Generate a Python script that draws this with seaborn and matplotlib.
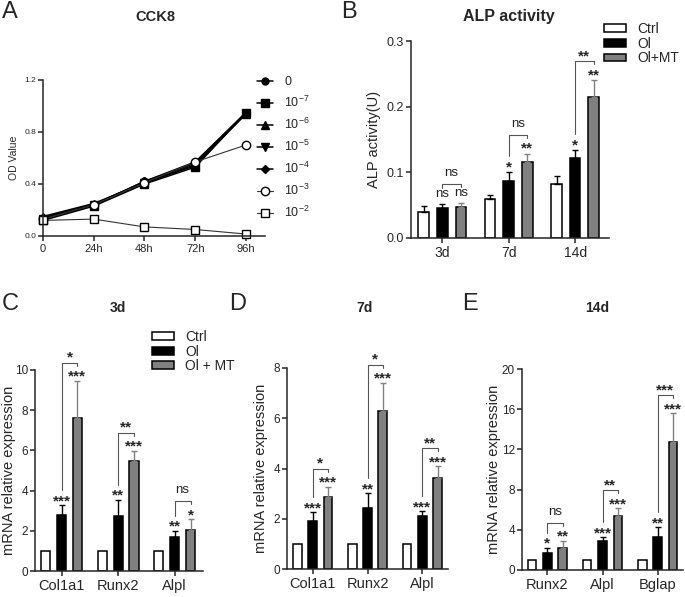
import matplotlib
matplotlib.use("Agg")
import matplotlib.pyplot as plt
import pandas as pd
import seaborn as sns
from matplotlib.patches import Patch
from matplotlib.ticker import FormatStrFormatter

sns.set_style("ticks")
plt.rcParams["font.family"] = ["Liberation Sans", "DejaVu Sans"]
plt.rcParams["mathtext.default"] = "regular"

# ---------------- data ----------------
# A: CCK8 (OD value over time for each concentration)
hours = [0, 24, 48, 72, 96]
hour_labels = ["0", "24h", "48h", "72h", "96h"]
conc_labels = ["0", "$10^{-7}$", "$10^{-6}$", "$10^{-5}$", "$10^{-4}$", "$10^{-3}$", "$10^{-2}$"]
od_0 = [0.14, 0.24, 0.42, 0.57, 0.95]
od_1e7 = [0.12, 0.23, 0.40, 0.53, 0.95]
od_1e6 = [0.15, 0.25, 0.41, 0.55, 0.94]
od_1e5 = [0.13, 0.24, 0.41, 0.54, 0.94]
od_1e4 = [0.14, 0.24, 0.42, 0.56, 0.95]
od_1e3 = [0.13, 0.24, 0.41, 0.57, 0.70]
od_1e2 = [0.12, 0.13, 0.07, 0.05, 0.015]

# B: ALP activity
days = ["3d", "7d", "14d"]
alp_ctrl = [0.039, 0.059, 0.082]
alp_ol = [0.045, 0.087, 0.122]
alp_mt = [0.047, 0.115, 0.214]
alp_ctrl_sd = [0.009, 0.007, 0.013]
alp_ol_sd = [0.007, 0.013, 0.012]
alp_mt_sd = [0.007, 0.013, 0.026]
alp_sig_ol = ["ns", "*", "*"]
alp_sig_mt = ["ns", "**", "**"]
alp_sig_cmp = ["ns", "ns", "**"]

# C: mRNA 3d
genes_cd = ["Col1a1", "Runx2", "Alpl"]
d3_ctrl = [1.0, 1.0, 1.0]
d3_ol = [2.80, 2.73, 1.69]
d3_mt = [7.62, 5.47, 2.03]
d3_ol_sd = [0.46, 0.81, 0.32]
d3_mt_sd = [1.85, 0.52, 0.55]
d3_sig_ol = ["***", "**", "**"]
d3_sig_mt = ["***", "***", "*"]
d3_sig_cmp = ["*", "**", "ns"]

# D: mRNA 7d
d7_ctrl = [1.0, 1.0, 1.0]
d7_ol = [1.91, 2.41, 2.11]
d7_mt = [2.87, 6.30, 3.62]
d7_ol_sd = [0.34, 0.61, 0.18]
d7_mt_sd = [0.41, 1.12, 0.46]
d7_sig_ol = ["***", "**", "***"]
d7_sig_mt = ["***", "***", "***"]
d7_sig_cmp = ["*", "*", "**"]

# E: mRNA 14d
genes_e = ["Runx2", "Alpl", "Bglap"]
d14_ctrl = [1.0, 1.0, 1.0]
d14_ol = [1.73, 2.90, 3.27]
d14_mt = [2.17, 5.33, 12.77]
d14_ol_sd = [0.47, 0.37, 1.00]
d14_mt_sd = [0.76, 0.80, 2.83]
d14_sig_ol = ["*", "***", "**"]
d14_sig_mt = ["**", "***", "***"]
d14_sig_cmp = ["ns", "**", "***"]

BAR_COLORS = ["white", "black", "#808080"]
ERR_COLORS = ["black", "black", "#808080"]

W, H = 685, 597
fig = plt.figure(figsize=(W / 100, H / 100), dpi=100)


def add_ax(l, t, r, b):
    return fig.add_axes([l / W, 1 - b / H, (r - l) / W, (b - t) / H])


def px2y(ax, n):
    lo, hi = ax.get_ylim()
    return n * (hi - lo) / (ax.get_position().height * H)


def style(ax, ysize, xsize):
    sns.despine(ax=ax)
    for s in ("left", "bottom"):
        ax.spines[s].set_linewidth(1.1)
    ax.tick_params(axis="y", width=1.1, length=3.5, pad=1.5, labelsize=ysize)
    ax.tick_params(axis="x", width=1.1, length=3.5, pad=2, labelsize=xsize)


def sig_text(ax, x, y, s):
    if s == "ns":
        ax.text(x, y, s, ha="center", va="center", fontsize=9.5, color="#222222")
    else:
        ax.text(x, y - px2y(ax, 5), s, ha="center", va="center", fontsize=11,
                fontweight="bold")


def bar_panel(ax, cats, names, means, sds, sig_ol, sig_mt, sig_cmp, ymax, yticks, xlim,
              gap_px=9):
    df = pd.DataFrame({
        "cat": cats * 3,
        "group": [n for n in names for _ in cats],
        "value": means[0] + means[1] + means[2],
    })
    sns.barplot(data=df, x="cat", y="value", hue="group", order=cats, hue_order=names,
                palette=dict(zip(names, BAR_COLORS)), width=0.84, gap=0.43,
                edgecolor="black", linewidth=1.1, errorbar=None, legend=False, ax=ax)
    ax.set_ylim(0, ymax)
    ax.set_xlim(*xlim)
    ax.set_yticks(yticks)
    ax.set_xlabel("")

    centers = []
    for cont, m, sd, ec in zip(ax.containers, means, sds, ERR_COLORS):
        xs = [p.get_x() + p.get_width() / 2 for p in cont]
        centers.append(xs)
        for x, v, e in zip(xs, m, sd):
            if e > 0:
                ax.errorbar([x], [v], yerr=[[0], [e]], fmt="none", ecolor=ec,
                            elinewidth=1.0, capsize=2.3, capthick=1.0, zorder=3)

    for i in range(len(cats)):
        x_ol, x_mt = centers[1][i], centers[2][i]
        y_ol = means[1][i] + sds[1][i] + px2y(ax, gap_px)
        y_mt = means[2][i] + sds[2][i] + px2y(ax, gap_px)
        sig_text(ax, x_ol, y_ol, sig_ol[i])
        sig_text(ax, x_mt, y_mt, sig_mt[i])
        y_br = max(y_ol, y_mt) + px2y(ax, 9)
        ax.plot([x_ol, x_ol, x_mt, x_mt],
                [y_ol + px2y(ax, 6), y_br, y_br, y_mt + px2y(ax, 6)],
                color="#555555", lw=0.8, clip_on=False)
        off = 11 if sig_cmp[i] == "ns" else 10
        sig_text(ax, (x_ol + x_mt) / 2, y_br + px2y(ax, off), sig_cmp[i])


def bar_legend(ax, names, x, y, size):
    handles = [Patch(facecolor=c, edgecolor="black", linewidth=1.1, label=n)
               for c, n in zip(BAR_COLORS, names)]
    ax.legend(handles=handles, loc="upper left", bbox_to_anchor=(x / W, 1 - y / H),
              bbox_transform=fig.transFigure, frameon=False, fontsize=size,
              handlelength=1.6, handleheight=0.5, handletextpad=0.8, labelspacing=0.05,
              borderpad=0, borderaxespad=0)


# ---------------- A: CCK8 ----------------
axA = add_ax(43, 80, 265, 236)
series = [od_0, od_1e7, od_1e6, od_1e5, od_1e4, od_1e3, od_1e2]
markers = ["o", "s", "^", "v", "D", "o", "s"]
msizes = [5, 5.5, 5.5, 5.5, 4, 6, 6]
faces = ["black"] * 5 + ["white", "white"]
lws = [1.1] * 5 + [0.8, 0.8]
lcols = ["black"] * 5 + ["#333333", "#333333"]
for vals, m, ms, fc, lw, lc in zip(series, markers, msizes, faces, lws, lcols):
    sns.lineplot(x=hours, y=vals, ax=axA, color=lc, lw=lw, marker=m, markersize=ms,
                 markerfacecolor=fc, markeredgecolor="black", markeredgewidth=1.0,
                 clip_on=False, legend=False)
axA.set_xlim(0, 105)
axA.set_ylim(0, 1.2)
axA.set_xticks(hours)
axA.set_xticklabels(hour_labels)
axA.set_yticks([0, 0.4, 0.8, 1.2])
axA.yaxis.set_major_formatter(FormatStrFormatter("%.1f"))
style(axA, 6, 8)
axA.set_ylabel("OD Value", fontsize=7.5)
axA.yaxis.set_label_coords(-(43 - 19) / 222, 0.5)
axA.legend(axA.get_lines(), conc_labels, loc="upper left",
           bbox_to_anchor=(257 / W, 1 - 76 / H), bbox_transform=fig.transFigure,
           frameon=False, fontsize=9, handlelength=1.3, handletextpad=0.9,
           labelspacing=0.55, borderpad=0, borderaxespad=0)

# ---------------- B: ALP activity ----------------
axB = add_ax(411, 41, 609, 238)
bar_panel(axB, days, ["Ctrl", "Ol", "Ol+MT"], [alp_ctrl, alp_ol, alp_mt],
          [alp_ctrl_sd, alp_ol_sd, alp_mt_sd], alp_sig_ol, alp_sig_mt, alp_sig_cmp,
          0.3, [0, 0.1, 0.2, 0.3], (-0.47, 2.51), gap_px=10)
axB.yaxis.set_major_formatter(FormatStrFormatter("%.1f"))
style(axB, 9, 10)
axB.set_ylabel("ALP activity(U)", fontsize=10.5)
axB.yaxis.set_label_coords(-(411 - 381) / 198, 0.5)
bar_legend(axB, ["Ctrl", "Ol", "Ol+MT"], 604, 22, 10)

# ---------------- C / D / E: mRNA ----------------
panels = [
    ((35, 370, 203, 571), genes_cd, [d3_ctrl, d3_ol, d3_mt], [[0, 0, 0], d3_ol_sd, d3_mt_sd],
     d3_sig_ol, d3_sig_mt, d3_sig_cmp, 10, [0, 2, 4, 6, 8, 10], (-0.47, 2.5), 16),
    ((287, 368, 448, 569), genes_cd, [d7_ctrl, d7_ol, d7_mt], [[0, 0, 0], d7_ol_sd, d7_mt_sd],
     d7_sig_ol, d7_sig_mt, d7_sig_cmp, 8, [0, 2, 4, 6, 8], (-0.47, 2.47), 268),
    ((522, 369, 683, 570), genes_e, [d14_ctrl, d14_ol, d14_mt], [[0, 0, 0], d14_ol_sd, d14_mt_sd],
     d14_sig_ol, d14_sig_mt, d14_sig_cmp, 20, [0, 4, 8, 12, 16, 20], (-0.46, 2.46), 501),
]
mrna_axes = []
for box, cats, means, sds, so, sm, sc, ymax, yt, xl, lab_x in panels:
    ax = add_ax(*box)
    bar_panel(ax, cats, ["Ctrl", "Ol", "Ol + MT"], means, sds, so, sm, sc, ymax, yt, xl)
    style(ax, 8.5, 10.5)
    ax.set_ylabel("mRNA relative expression", fontsize=10.5)
    ax.yaxis.set_label_coords(-(box[0] - lab_x) / (box[2] - box[0]), 0.5)
    mrna_axes.append(ax)
bar_legend(mrna_axes[0], ["Ctrl", "Ol", "Ol + MT"], 152, 330, 10)

# ---------------- titles and panel letters ----------------
for x, y, t, s in [(155, 17, "CCK8", 10.5), (509, 16, "ALP activity", 11.5),
                   (118, 308, "3d", 10), (365, 308, "7d", 10), (597, 308, "14d", 10)]:
    fig.text(x / W, 1 - y / H, t, ha="center", va="center", fontsize=s, fontweight="bold")
for x, y, t in [(2, 12, "A"), (341, 12, "B"), (2, 304, "C"), (229, 304, "D"), (462, 304, "E")]:
    fig.text(x / W, 1 - y / H, t, ha="left", va="center", fontsize=17)

fig.savefig("out.png", dpi=100)
